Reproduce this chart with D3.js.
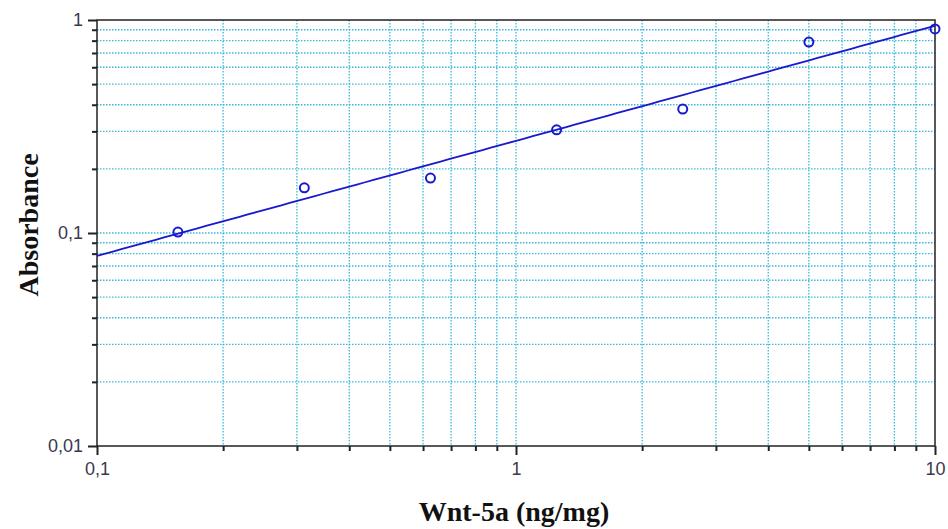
<!DOCTYPE html>
<html>
<head>
<meta charset="utf-8">
<script src="https://cdn.jsdelivr.net/npm/d3@7"></script>
<style>
  html, body { margin: 0; padding: 0; background: #fff; }
  svg { display: block; }
</style>
</head>
<body>
<svg id="chart" width="948" height="529"></svg>
<script>
// Standard curve: concentration vs absorbance (log-log)
const concentrations = [0.156, 0.3125, 0.625, 1.25, 2.5, 5, 10];
const absorbances   = [0.101, 0.163, 0.181, 0.305, 0.382, 0.788, 0.908];
const xTickValues = [0.1, 1, 10];
const yTickValues = [0.01, 0.1, 1];
const xTickLabels = ["0,1", "1", "10"];
const yTickLabels = ["0,01", "0,1", "1"];
const xTitle = "Wnt-5a (ng/mg)";
const yTitle = "Absorbance";

const W = 948, H = 529;
const m = { left: 97, right: 13, top: 20, bottom: 83 };
const svg = d3.select("#chart");

const x = d3.scaleLog().domain([0.1, 10]).range([m.left, W - m.right]);
const y = d3.scaleLog().domain([0.01, 1]).range([H - m.bottom, m.top]);

// every 1..9 multiple inside the domain
function allTicks(domain) {
  const out = [];
  for (let e = Math.round(Math.log10(domain[0])); e < Math.round(Math.log10(domain[1])); e++) {
    for (let k = 1; k <= 9; k++) out.push(k * Math.pow(10, e));
  }
  out.push(domain[1]);
  return out;
}
const xAll = allTicks(x.domain());
const yAll = allTicks(y.domain());
const xMinor = xAll.filter(v => !xTickValues.some(t => Math.abs(t - v) < 1e-9));
const yMinor = yAll.filter(v => !yTickValues.some(t => Math.abs(t - v) < 1e-9));

const gridColor = "#3ab8dc";
const grid = svg.append("g");
grid.selectAll("line.v").data(xAll.filter(v => v > 0.1 + 1e-9 && v < 10 - 1e-9)).join("line")
  .attr("x1", d => x(d)).attr("x2", d => x(d))
  .attr("y1", m.top).attr("y2", H - m.bottom)
  .attr("stroke", gridColor).attr("stroke-width", 1.3)
  .attr("stroke-dasharray", "1.5,1.5");
grid.selectAll("line.h").data(yAll.filter(v => v > 0.01 + 1e-9 && v < 1 - 1e-9)).join("line")
  .attr("y1", d => y(d)).attr("y2", d => y(d))
  .attr("x1", m.left).attr("x2", W - m.right)
  .attr("stroke", gridColor).attr("stroke-width", 1.3)
  .attr("stroke-dasharray", "1.5,1.5");

// frame
svg.append("rect")
  .attr("x", m.left).attr("y", m.top)
  .attr("width", W - m.left - m.right).attr("height", H - m.top - m.bottom)
  .attr("fill", "none").attr("stroke", "#222").attr("stroke-width", 1.5);

const labelColor = "#3d3850";

// axes: major ticks with labels, minor ticks without
const xAxisMajor = d3.axisBottom(x).tickValues(xTickValues).tickSize(9)
  .tickFormat((d, i) => xTickLabels[i]);
const xAxisMinor = d3.axisBottom(x).tickValues(xMinor).tickSize(5).tickFormat("");
const yAxisMajor = d3.axisLeft(y).tickValues(yTickValues).tickSize(9)
  .tickFormat((d, i) => yTickLabels[i]);
const yAxisMinor = d3.axisLeft(y).tickValues(yMinor).tickSize(5).tickFormat("");

function styleAxis(g) {
  g.select(".domain").remove();
  g.selectAll(".tick line").attr("stroke", "#222").attr("stroke-width", 2);
  g.selectAll(".tick text")
    .attr("fill", labelColor)
    .style("font-family", "Arial, 'Liberation Sans', sans-serif")
    .style("font-size", "18px");
}
svg.append("g").attr("transform", `translate(0,${H - m.bottom})`).call(xAxisMinor).call(styleAxis);
svg.append("g").attr("transform", `translate(0,${H - m.bottom})`).call(xAxisMajor).call(styleAxis)
  .selectAll(".tick text").attr("dy", "0.95em");
svg.append("g").attr("transform", `translate(${m.left},0)`).call(yAxisMinor).call(styleAxis);
svg.append("g").attr("transform", `translate(${m.left},0)`).call(yAxisMajor).call(styleAxis)
  .selectAll(".tick text").attr("x", -14);

// power-law fit in log-log space
const lx = concentrations.map(Math.log10), ly = absorbances.map(Math.log10);
const mx = d3.mean(lx), my = d3.mean(ly);
const slope = d3.sum(lx.map((v, i) => (v - mx) * (ly[i] - my))) / d3.sum(lx.map(v => (v - mx) ** 2));
const intercept = my - slope * mx;
const fit = d3.range(0, 101).map(i => {
  const lv = -1 + 2 * i / 100;
  return [Math.pow(10, lv), Math.pow(10, intercept + slope * lv)];
});
const blue = "#1a1acc";
svg.append("path").datum(fit)
  .attr("d", d3.line().x(d => x(d[0])).y(d => y(d[1])))
  .attr("fill", "none").attr("stroke", blue).attr("stroke-width", 1.8);

svg.append("g").selectAll("circle").data(concentrations).join("circle")
  .attr("cx", d => x(d)).attr("cy", (d, i) => y(absorbances[i]))
  .attr("r", 4.5).attr("fill", "none").attr("stroke", blue).attr("stroke-width", 2);

// axis titles
svg.append("text")
  .attr("x", 514).attr("y", 521)
  .attr("text-anchor", "middle")
  .style("font-family", "'Liberation Serif', 'Times New Roman', serif")
  .style("font-weight", "bold").style("font-size", "28px").attr("fill", "#111")
  .text(xTitle);
svg.append("text")
  .attr("transform", `translate(38,${(m.top + H - m.bottom) / 2 - 8}) rotate(-90)`)
  .attr("text-anchor", "middle")
  .style("font-family", "'Liberation Serif', 'Times New Roman', serif")
  .style("font-weight", "bold").style("font-size", "28px").attr("fill", "#111")
  .text(yTitle);
</script>
</body>
</html>
